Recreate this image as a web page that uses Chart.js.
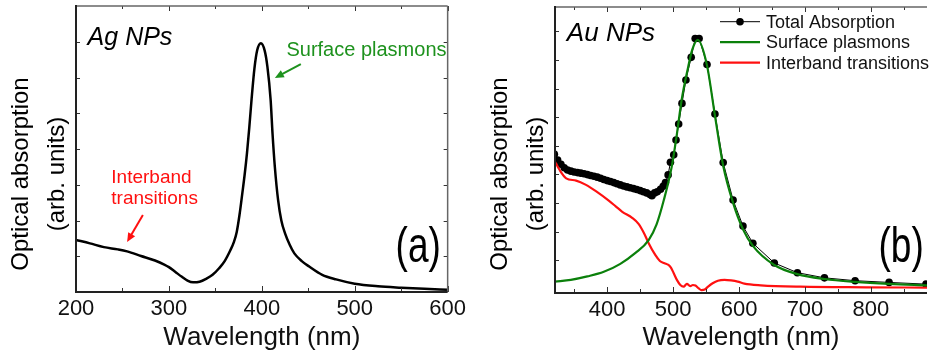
<!DOCTYPE html>
<html>
<head>
<meta charset="utf-8">
<script src="https://cdn.jsdelivr.net/npm/chart.js@4.4.1/dist/chart.umd.min.js"></script>
<style>
  html, body { margin: 0; padding: 0; background: #fff; }
  #wrap { position: relative; width: 931px; height: 354px; overflow: hidden; background: #fff; }
  #ag { position: absolute; left: 0; top: 0; }
  #au { position: absolute; left: 470px; top: 0; background: #fff; }
</style>
</head>
<body>
<div id="wrap">
  <canvas id="ag" width="470" height="354"></canvas>
  <canvas id="au" width="461" height="354"></canvas>
</div>
<script>
// ---- (a) Ag NPs : wavelength (nm) vs optical absorption (arb. units, 0..100) ----
const AG_WL = [200, 215, 230, 245, 255, 270, 285, 295, 300, 307, 314, 320, 326, 333, 340, 347, 354, 360,
  366, 370, 373, 376, 379, 381.5, 384, 386.5, 389, 392, 395, 399, 403, 406, 409.5, 411.5, 414, 417.5, 421,
  425, 430, 435, 443, 451, 465, 480, 500, 525, 550, 575, 600];
const AG_ABS = [18.2, 17.0, 15.7, 14.9, 14.2, 12.6, 11.0, 9.6, 8.7, 7.0, 5.3, 4.0, 3.4, 3.6, 4.6, 6.0, 8.3, 10.8,
  14.5, 17.5, 21.0, 27.0, 34.5, 41.0, 48.5, 57.5, 67.5, 78.0, 84.5, 87.0, 84.5, 78.8, 67.1, 55.5, 43.8, 32.2,
  25.0, 20.5, 16.5, 13.5, 10.8, 8.9, 6.0, 4.4, 2.9, 2.0, 1.5, 1.1, 0.8];
const AG_TICKS = [200, 300, 400, 500, 600];
const AG_MINOR = [250, 350, 450, 550];
const AG_Y_TICKS = [12.5, 25, 37.5, 50, 62.5, 75, 87.5];

// ---- (b) Au NPs ----
const AU_TOTAL_WL = [320, 325, 330, 335, 340, 345, 350, 355, 360, 365, 370, 375, 380, 385, 390, 395, 400, 405,
  410, 415, 420, 425, 430, 435, 440, 445, 450, 455, 460, 465, 468, 472, 476, 481, 485, 488.5, 492.5, 496,
  501, 504.5, 508.5, 513.5, 519.5, 527.5, 533.5, 539.5, 551.5, 563.5, 576, 591, 606, 621, 653.5, 688.5,
  729.5, 776, 827.5, 883.5];
const AU_TOTAL = [48.5, 46.5, 45.0, 43.8, 43.0, 42.6, 42.3, 42.1, 41.9, 41.7, 41.4, 41.1, 40.8, 40.5, 40.1, 39.7,
  39.3, 39.0, 38.6, 38.2, 37.8, 37.4, 37.1, 36.8, 36.5, 36.2, 35.8, 35.4, 35.0, 34.4, 34.0, 35.0, 35.4, 36.3,
  37.3, 38.6, 41.3, 45.7, 48.3, 53.5, 59.1, 66.3, 74.5, 82.4, 89.0, 89.0, 79.9, 62.6, 45.6, 32.5, 23.4, 17.4,
  10.5, 7.1, 5.3, 4.3, 3.7, 3.1];
const AU_SP_WL = [321, 345, 370, 395, 420, 443, 463, 475, 486, 498, 506, 513, 523, 529, 537.5, 551.5, 563.5,
  576, 591, 606, 621, 653.5, 688.5, 729.5, 776, 827.5, 885];
const AU_SP = [4.0, 4.6, 5.8, 7.4, 10.2, 14.0, 18.5, 24.0, 32.5, 44.2, 55.9, 67.5, 79.1, 85.0, 88.5, 79.5, 62.0,
  44.5, 31.5, 22.3, 16.5, 9.8, 6.6, 4.9, 3.9, 3.2, 2.7];
const AU_IB_WL = [321, 328, 338, 353, 368, 383, 403, 413, 423, 438, 448, 456, 463, 473, 480, 487, 493, 497, 501,
  506, 511, 516, 521, 526, 530, 534, 539, 543, 548, 553, 560, 568, 578, 588, 598, 608, 633, 693, 793, 885];
const AU_IB = [45.9, 43.0, 40.1, 39.3, 37.8, 35.6, 32.2, 30.3, 28.4, 26.3, 24.1, 20.9, 17.4, 13.3, 11.2, 10.4,
  9.8, 8.8, 6.9, 4.5, 2.8, 2.2, 3.2, 2.4, 2.8, 2.6, 1.6, 1.0, 1.2, 2.2, 3.4, 4.3, 4.6, 4.4, 4.0, 3.3, 2.7,
  2.2, 2.0, 1.9];
const AU_TICKS = [400, 500, 600, 700, 800];
const AU_MINOR = [350, 450, 550, 650, 750, 850];
const AU_Y_TICKS = [11.5, 21.5, 31.5, 41.5, 51.5, 61.5, 71.5, 81.5, 91.5];

const FONT = '"Liberation Sans", Arial, sans-serif';
const GREEN = '#0b800b';
const RED = '#ff1010';

function pts(xs, ys) { return xs.map((x, i) => ({ x, y: ys[i] })); }

function arrow(ctx, x1, y1, x2, y2, color) {
  const ang = Math.atan2(y2 - y1, x2 - x1);
  ctx.strokeStyle = color; ctx.fillStyle = color; ctx.lineWidth = 2;
  ctx.beginPath(); ctx.moveTo(x1, y1);
  ctx.lineTo(x2 - 6 * Math.cos(ang), y2 - 6 * Math.sin(ang)); ctx.stroke();
  ctx.beginPath(); ctx.moveTo(x2, y2);
  ctx.lineTo(x2 - 9 * Math.cos(ang) + 4 * Math.sin(ang), y2 - 9 * Math.sin(ang) - 4 * Math.cos(ang));
  ctx.lineTo(x2 - 9 * Math.cos(ang) - 4 * Math.sin(ang), y2 - 9 * Math.sin(ang) + 4 * Math.cos(ang));
  ctx.closePath(); ctx.fill();
}

// frame with inward ticks, rotated y title, text labels, arrows and legend
const decor = {
  id: 'decor',
  afterDraw(chart, args, o) {
    const { ctx, chartArea: a, scales: { x, y } } = chart;
    ctx.save();
    const seg = (x1, y1, x2, y2) => { ctx.beginPath(); ctx.moveTo(x1, y1); ctx.lineTo(x2, y2); ctx.stroke(); };

    ctx.strokeStyle = '#333'; ctx.lineWidth = 1;
    o.xMajor.forEach(v => {
      const px = Math.round(x.getPixelForValue(v)) + 0.5;
      seg(px, a.bottom, px, a.bottom - 6); seg(px, a.top, px, a.top + 5);
    });
    o.xMinor.forEach(v => {
      const px = Math.round(x.getPixelForValue(v)) + 0.5;
      seg(px, a.bottom, px, a.bottom - 4); seg(px, a.top, px, a.top + 3);
    });
    o.yTicks.forEach(v => {
      const py = Math.round(y.getPixelForValue(v)) + 0.5;
      seg(a.left, py, a.left + 4, py);
      if (o.rightBorder) seg(a.right, py, a.right - 4, py);
    });

    ctx.strokeStyle = '#666'; ctx.lineWidth = 1.5;
    seg(a.left, a.top, a.right, a.top);
    if (o.rightBorder) seg(a.right, a.top, a.right, a.bottom);
    ctx.strokeStyle = '#222'; ctx.lineWidth = 2;
    seg(a.left, a.top - 1, a.left, a.bottom + 1);
    seg(a.left, a.bottom, a.right, a.bottom);

    // y title
    ctx.fillStyle = '#000'; ctx.font = '24px ' + FONT;
    ctx.textAlign = 'center'; ctx.textBaseline = 'middle';
    o.yTitle.forEach(t => {
      ctx.save(); ctx.translate(a.left - t.dx, 174); ctx.rotate(-Math.PI / 2);
      ctx.fillText(t.text, 0, 0); ctx.restore();
    });

    // texts
    ctx.textAlign = 'left'; ctx.textBaseline = 'alphabetic';
    o.texts.forEach(t => {
      ctx.fillStyle = t.color; ctx.font = t.font;
      const px = x.getPixelForValue(t.x), py = y.getPixelForValue(t.y);
      ctx.save(); ctx.translate(px, py); ctx.scale(t.sx || 1, 1);
      ctx.fillText(t.text, 0, 0); ctx.restore();
    });

    o.arrows.forEach(r => arrow(ctx, x.getPixelForValue(r.from[0]), y.getPixelForValue(r.from[1]),
      x.getPixelForValue(r.to[0]), y.getPixelForValue(r.to[1]), r.color));

    if (o.legend) {
      const L = o.legend;
      ctx.font = '18px ' + FONT; ctx.textBaseline = 'middle';
      chart.data.datasets.forEach((ds, i) => {
        const ly = L.y + i * L.gap;
        ctx.strokeStyle = ds.borderColor; ctx.lineWidth = ds.borderWidth;
        seg(L.x, ly, L.x + 40, ly);
        if (ds.pointRadius) {
          ctx.fillStyle = ds.pointBackgroundColor;
          ctx.beginPath(); ctx.arc(L.x + 20, ly, ds.pointRadius, 0, Math.PI * 2); ctx.fill();
        }
        ctx.fillStyle = '#111';
        ctx.fillText(ds.label, L.x + 46, ly + 1);
      });
    }
    ctx.restore();
  }
};

function xAxis(min, max, ticks, h) {
  return {
    type: 'linear', min, max,
    afterBuildTicks: s => { s.ticks = ticks.map(v => ({ value: v })); },
    grid: { display: false, drawTicks: false }, border: { display: false },
    ticks: { font: { size: 22, family: FONT }, color: '#111', padding: 4, maxRotation: 0, autoSkip: false },
    title: { display: true, text: 'Wavelength (nm)', font: { size: 26, family: FONT }, color: '#111', padding: { top: 0, bottom: 1 } },
    afterFit: s => { s.height = h; }
  };
}
function yAxis(w) {
  return {
    min: 0, max: 100,
    ticks: { display: false }, grid: { display: false, drawTicks: false }, border: { display: false },
    afterFit: s => { s.width = w; }
  };
}
const Y_TITLE = [{ text: 'Optical absorption', dx: 55 }, { text: '(arb. units)', dx: 19 }];

new Chart(document.getElementById('ag'), {
  type: 'line',
  data: {
    datasets: [{
      label: 'Ag NPs', data: pts(AG_WL, AG_ABS), borderColor: '#000', borderWidth: 2.5,
      pointRadius: 0, cubicInterpolationMode: 'monotone', fill: false
    }]
  },
  options: {
    responsive: false, animation: false,
    layout: { padding: { top: 6, right: 16, left: 0, bottom: 0 } },
    plugins: {
      legend: { display: false }, tooltip: { enabled: false },
      decor: {
        xMajor: AG_TICKS, xMinor: AG_MINOR, yTicks: AG_Y_TICKS, rightBorder: true, yTitle: Y_TITLE,
        texts: [
          { text: 'Ag NPs', x: 212.5, y: 86.4, font: 'italic 25px ' + FONT, color: '#000' },
          { text: 'Surface plasmons', x: 426.5, y: 82.5, font: '20px ' + FONT, color: '#1e921e' },
          { text: 'Interband', x: 238, y: 38.1, font: '19px ' + FONT, color: RED },
          { text: 'transitions', x: 238, y: 30.8, font: '19px ' + FONT, color: RED },
          { text: '(a)', x: 544, y: 10.5, font: '50px ' + FONT, color: '#000', sx: 0.74 }
        ],
        arrows: [
          { from: [442, 79.7], to: [414, 74.8], color: '#1e921e' },
          { from: [272, 26.9], to: [255, 17.5], color: RED }
        ]
      }
    },
    scales: { x: xAxis(200, 600, AG_TICKS, 62), y: yAxis(76) }
  },
  plugins: [decor]
});

new Chart(document.getElementById('au'), {
  type: 'line',
  data: {
    datasets: [
      {
        label: 'Total Absorption', data: pts(AU_TOTAL_WL, AU_TOTAL), borderColor: '#000', borderWidth: 1,
        pointRadius: 3.8, pointBackgroundColor: '#000', pointBorderWidth: 0, tension: 0, order: 3
      },
      {
        label: 'Surface plasmons', data: pts(AU_SP_WL, AU_SP), borderColor: GREEN, borderWidth: 2.2,
        pointRadius: 0, cubicInterpolationMode: 'monotone', order: 1
      },
      {
        label: 'Interband transitions', data: pts(AU_IB_WL, AU_IB), borderColor: RED, borderWidth: 2.2,
        pointRadius: 0, cubicInterpolationMode: 'monotone', order: 2
      }
    ]
  },
  options: {
    responsive: false, animation: false,
    layout: { padding: { top: 7, right: 0, left: 0, bottom: 0 } },
    plugins: {
      legend: { display: false }, tooltip: { enabled: false },
      decor: {
        xMajor: AU_TICKS, xMinor: AU_MINOR, yTicks: AU_Y_TICKS, rightBorder: false, yTitle: Y_TITLE,
        texts: [
          { text: 'Au NPs', x: 339, y: 88.1, font: 'italic 26px ' + FONT, color: '#000' },
          { text: '(b)', x: 811.5, y: 10.8, font: '50px ' + FONT, color: '#000', sx: 0.74 }
        ],
        arrows: [],
        legend: { x: 250, y: 21.7, gap: 20.5 }
      }
    },
    scales: { x: xAxis(321, 885, AU_TICKS, 61), y: yAxis(85) }
  },
  plugins: [decor]
});
</script>
</body>
</html>
